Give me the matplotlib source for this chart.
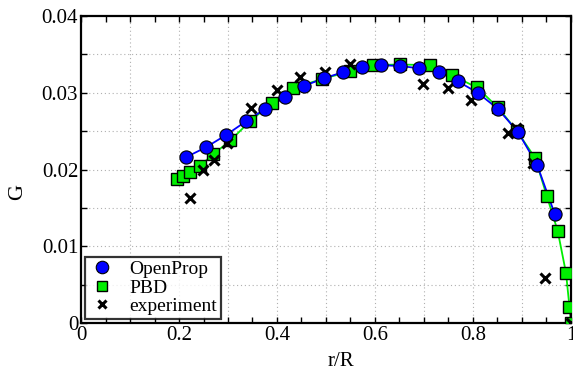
import matplotlib
matplotlib.use("Agg")
import matplotlib.pyplot as plt
from matplotlib.lines import Line2D
from matplotlib.ticker import MultipleLocator, FixedLocator

plt.rcParams['font.family'] = ['Liberation Serif', 'DejaVu Serif']

openprop_x = [0.214, 0.255, 0.296, 0.337, 0.376, 0.416, 0.455, 0.496, 0.535, 0.573,
              0.612, 0.651, 0.690, 0.731, 0.769, 0.810, 0.851, 0.892, 0.931, 0.967]
openprop_g = [0.0216, 0.0229, 0.0245, 0.0263, 0.0279, 0.0294, 0.0309, 0.0319, 0.0327, 0.0334,
              0.0336, 0.0335, 0.0332, 0.0327, 0.0315, 0.0300, 0.0279, 0.0249, 0.0206, 0.0142]

pbd_x = [0.195, 0.208, 0.222, 0.243, 0.270, 0.305, 0.345, 0.390, 0.433, 0.492, 0.549, 0.596,
         0.651, 0.712, 0.757, 0.808, 0.851, 0.890, 0.927, 0.951, 0.973, 0.990, 0.997, 1.0]
pbd_g = [0.0188, 0.0192, 0.0197, 0.0205, 0.0220, 0.0238, 0.0263, 0.0287, 0.0306, 0.0318, 0.0328, 0.0336,
         0.0337, 0.0336, 0.0323, 0.0307, 0.0281, 0.0250, 0.0215, 0.0165, 0.0120, 0.0065, 0.0021, 0.0]

exp_x = [0.222, 0.249, 0.271, 0.298, 0.347, 0.400, 0.447, 0.498, 0.549, 0.698, 0.749, 0.796,
         0.871, 0.888, 0.922, 0.947, 1.0]
exp_g = [0.0163, 0.0200, 0.0213, 0.0235, 0.0280, 0.0304, 0.0320, 0.0327, 0.0337, 0.0311, 0.0306, 0.0291,
         0.0248, 0.0254, 0.0208, 0.0059, 0.0]

xticks = [0, 0.2, 0.4, 0.6, 0.8, 1]
xticklabels = ['0', '0.2', '0.4', '0.6', '0.8', '1']
yticks = [0, 0.01, 0.02, 0.03, 0.04]
yticklabels = ['0', '0.01', '0.02', '0.03', '0.04']

fig = plt.figure(figsize=(5.73, 3.72), dpi=100)
ax = fig.add_axes([0.1414, 0.1317, 0.855, 0.825])

# lines
ax.plot(pbd_x, pbd_g, '-', color='#00ee00', lw=1.3, zorder=2)
ax.plot(openprop_x, openprop_g, '-', color='#0000ff', lw=1.3, zorder=3)
# markers
ax.plot(pbd_x, pbd_g, 's', ms=8.5, mfc='#00ee00', mec='black', mew=1.0, zorder=4, ls='none')
ax.plot(exp_x, exp_g, 'x', ms=7.5, mec='black', mew=2.2, zorder=5, ls='none')
ax.plot(openprop_x, openprop_g, 'o', ms=9.5, mfc='#0000ff', mec='black', mew=0.8, zorder=6, ls='none')

ax.set_xlim(0, 1)
ax.set_ylim(0, 0.04)
ax.xaxis.set_major_locator(FixedLocator(xticks))
ax.set_xticklabels(xticklabels)
ax.yaxis.set_major_locator(FixedLocator(yticks))
ax.set_yticklabels(yticklabels)
ax.xaxis.set_minor_locator(MultipleLocator(0.05))
ax.yaxis.set_minor_locator(MultipleLocator(0.005))

ax.tick_params(which='both', direction='in', top=True, right=True, labelsize=15, width=1)
ax.tick_params(which='major', length=4, pad=2)
ax.tick_params(which='minor', length=4)
for s in ax.spines.values():
    s.set_linewidth(1.6)

for xv in [0.1, 0.2, 0.3, 0.4, 0.5, 0.6, 0.7, 0.8, 0.9]:
    ax.axvline(xv, color='#b0b0b0', ls=(0, (1, 2.5)), lw=0.8, zorder=1)
for yv in [0.005, 0.01, 0.015, 0.02, 0.025, 0.03, 0.035]:
    ax.axhline(yv, color='#b0b0b0', ls=(0, (1, 2.5)), lw=0.8, zorder=1)

ax.set_xlabel('r/R', fontsize=15)
ax.set_ylabel('G', fontsize=16)
ax.xaxis.set_label_coords(0.531, -0.124)
ax.yaxis.set_label_coords(-0.129, 0.427)
ax.xaxis.label.set_va('center')
ax.yaxis.label.set_va('center')

handles = [
    Line2D([], [], ls='none', marker='o', ms=9, mfc='#0000ff', mec='black', mew=0.8),
    Line2D([], [], ls='none', marker='s', ms=7, mfc='#00ee00', mec='black', mew=1.0),
    Line2D([], [], ls='none', marker='x', ms=6, mec='black', mew=2.2),
]
leg = ax.legend(handles, ['OpenProp', 'PBD', 'experiment'], loc='lower left',
                fontsize=14, frameon=True, fancybox=False, edgecolor='black',
                borderaxespad=0.2, handlelength=1.4, handletextpad=0.7,
                labelspacing=0.05, borderpad=0.2)
leg.get_frame().set_linewidth(1.6)
leg.set_zorder(10)

fig.savefig('out.png', dpi=100)
